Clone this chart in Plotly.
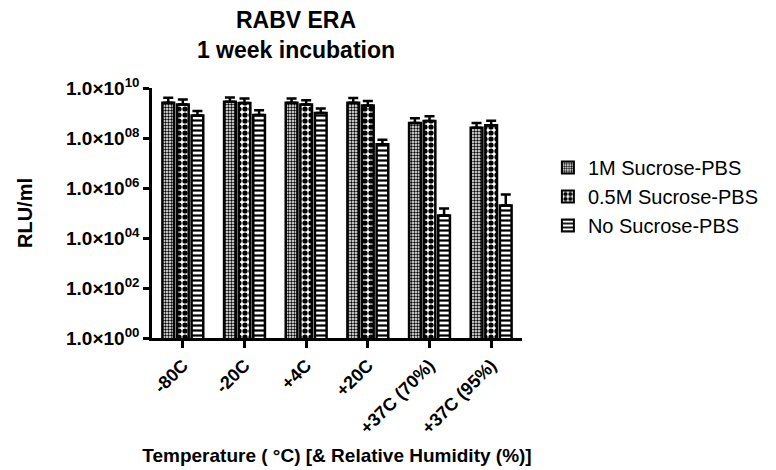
import plotly.graph_objects as go

categories = ["-80C", "-20C", "+4C", "+20C", "+37C (70%)", "+37C (95%)"]
series_names = ["1M Sucrose-PBS", "0.5M Sucrose-PBS", "No Sucrose-PBS"]
sucrose_1m = [2.6e9, 2.8e9, 2.6e9, 2.6e9, 4.0e8, 2.6e8]
sucrose_05m = [2.2e9, 2.5e9, 2.2e9, 2.0e9, 4.8e8, 3.2e8]
no_sucrose = [8.0e8, 8.3e8, 1.0e9, 5.6e7, 8.0e4, 2.0e5]
err_1m = [1.5e9, 1.4e9, 1.2e9, 1.4e9, 2.2e8, 1.4e8]
err_05m = [1.3e9, 1.3e9, 1.0e9, 1.0e9, 2.6e8, 1.7e8]
err_no = [4.0e8, 4.5e8, 5.0e8, 3.0e7, 7.0e4, 3.5e5]
ytick_vals = [1e0, 1e2, 1e4, 1e6, 1e8, 1e10]
ytick_text = ["1.0×10<sup>00</sup>", "1.0×10<sup>02</sup>", "1.0×10<sup>04</sup>",
              "1.0×10<sup>06</sup>", "1.0×10<sup>08</sup>", "1.0×10<sup>10</sup>"]

FONT = "Liberation Sans, Arial, sans-serif"

patterns = [
    dict(shape=".", size=3, solidity=0.5, fgcolor="black", bgcolor="white", fillmode="replace"),
    dict(shape=".", size=6, solidity=0.6, fgcolor="black", bgcolor="white", fillmode="replace"),
    dict(shape="-", size=5, solidity=0.45, fgcolor="black", bgcolor="white", fillmode="replace"),
]
values = [sucrose_1m, sucrose_05m, no_sucrose]
errors = [err_1m, err_05m, err_no]

fig = go.Figure()
for name, vals, errs, pat in zip(series_names, values, errors, patterns):
    fig.add_trace(go.Bar(
        x=categories, y=vals, name=name,
        marker=dict(color="white", pattern=pat, line=dict(color="black", width=2.5)),
        error_y=dict(type="data", array=errs, arrayminus=[0] * len(errs), symmetric=False,
                     color="black", thickness=2.5, width=5),
    ))

fig.update_layout(
    width=776, height=470,
    margin=dict(l=152, r=243, t=88, b=132),
    paper_bgcolor="white", plot_bgcolor="white",
    barmode="group", bargap=0.29, bargroupgap=0.2,
    font=dict(family=FONT, color="black"),
    title=dict(text="RABV ERA<br>1 week incubation", x=296 / 776, xanchor="center",
               y=0.94, yanchor="top",
               font=dict(family=FONT, size=23, weight="bold", color="black")),
    legend=dict(x=1.07, y=0.76, xanchor="left", yanchor="top",
                font=dict(family=FONT, size=20, color="black"),
                itemsizing="constant", tracegroupgap=4),
    showlegend=True,
)
fig.update_xaxes(
    type="category", range=[-0.5, 5.5], automargin=False,
    showline=True, linecolor="black", linewidth=2.5,
    ticks="outside", ticklen=7, tickwidth=2.5, tickcolor="black",
    tickangle=-45, tickfont=dict(family=FONT, size=18, weight="bold"),
    title=dict(text="Temperature ( °C) [& Relative Humidity (%)]",
               font=dict(family=FONT, size=19, weight="bold"), standoff=12),
    showgrid=False, zeroline=False,
)
fig.update_yaxes(
    type="log", range=[0, 10], automargin=False,
    showline=True, linecolor="black", linewidth=2.5,
    ticks="outside", ticklen=6, tickwidth=2.5, tickcolor="black",
    tickvals=ytick_vals, ticktext=ytick_text,
    tickfont=dict(family=FONT, size=19, weight="bold"),
    title=dict(text="RLU/ml", font=dict(family=FONT, size=20, weight="bold"), standoff=28),
    showgrid=False, zeroline=False,
)

fig.write_html("out.html", config={"displayModeBar": False},
               post_script="document.body.style.margin='0';")
